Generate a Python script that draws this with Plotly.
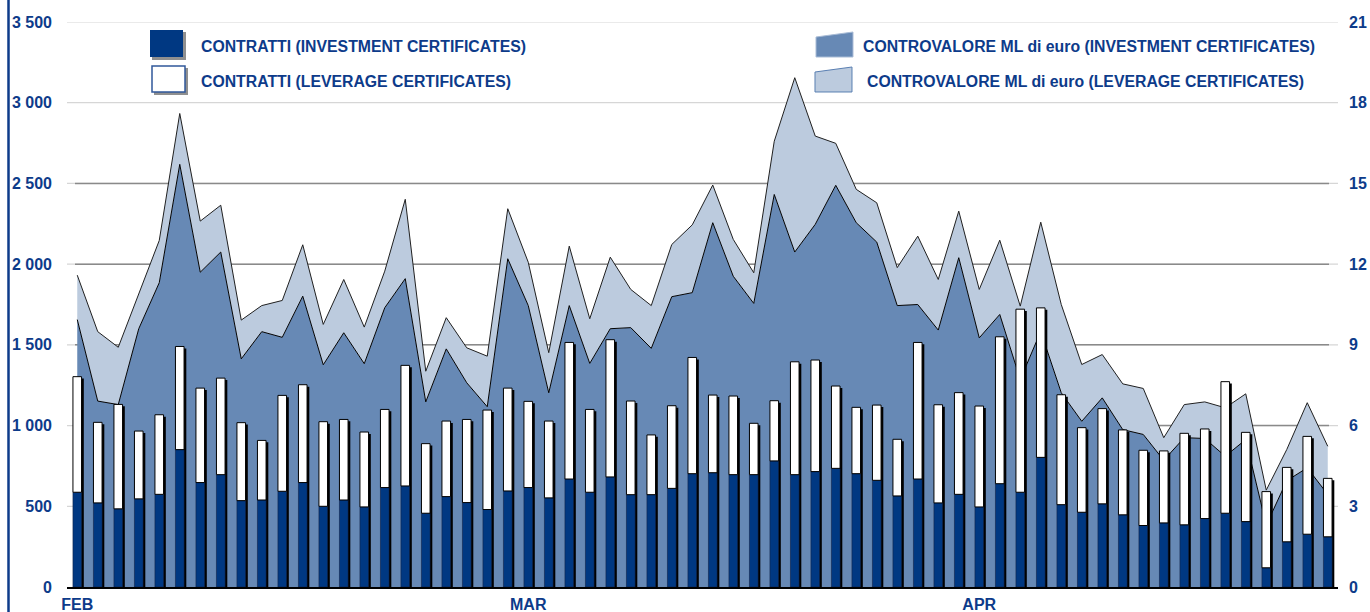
import plotly.graph_objects as go

# ---- data ------------------------------------------------------------------
days = list(range(62))
month_ticks = [0, 22, 44]
month_labels = ["FEB", "MAR", "APR"]

contratti_inv = [587, 521, 484, 546, 574, 851, 647, 696, 535, 539,
                 593, 647, 500, 539, 496, 616, 626, 457, 560, 523,
                 480, 595, 616, 552, 669, 587, 682, 572, 572, 611,
                 702, 708, 696, 696, 781, 696, 715, 735, 702, 661,
                 564, 669, 521, 574, 496, 640, 587, 803, 510, 463,
                 515, 447, 381, 397, 385, 424, 457, 405, 119, 280,
                 327, 311]
contratti_lev = [716, 499, 647, 420, 493, 639, 585, 598, 483, 369,
                 594, 606, 524, 499, 464, 484, 747, 431, 468, 515,
                 616, 637, 534, 476, 846, 513, 850, 580, 370, 512,
                 720, 481, 487, 318, 373, 699, 691, 510, 411, 466,
                 351, 846, 608, 630, 625, 910, 1134, 926, 681, 524,
                 590, 526, 466, 446, 567, 555, 815, 553, 472, 461,
                 606, 362]

ctv_inv = [9.94, 6.91, 6.78, 9.6, 11.31, 15.71, 11.70, 12.45, 8.48, 9.49,
           9.28, 10.81, 8.26, 9.45, 8.30, 10.38, 11.46, 6.88, 8.85, 7.59,
           6.7, 12.2, 10.46, 7.22, 10.46, 8.31, 9.60, 9.64, 8.87, 10.79,
           10.94, 13.54, 11.55, 10.54, 14.59, 12.45, 13.48, 14.93, 13.54, 12.82,
           10.46, 10.50, 9.55, 12.24, 9.26, 10.13, 7.71, 9.5, 7.22, 6.16,
           7.03, 5.85, 5.67, 4.71, 5.55, 5.52, 4.86, 5.48, 2.3, 3.95,
           4.43, 3.44]
ctv_lev = [1.65, 2.58, 2.13, 1.3, 1.57, 1.89, 1.9, 1.74, 1.44, 0.97,
           1.37, 1.91, 1.50, 1.98, 1.36, 1.36, 2.95, 1.14, 1.16, 1.30,
           1.88, 1.86, 1.61, 1.49, 2.21, 1.66, 2.66, 1.42, 1.59, 1.94,
           2.52, 1.40, 1.37, 1.14, 1.98, 6.48, 3.28, 1.56, 1.24, 1.46,
           1.41, 2.54, 1.88, 1.73, 1.80, 2.76, 2.73, 4.06, 3.28, 2.11,
           1.61, 1.70, 1.71, 0.84, 1.23, 1.36, 1.80, 1.70, 1.3, 1.16,
           2.42, 1.79]

left_ticks = [0, 500, 1000, 1500, 2000, 2500, 3000, 3500]
left_labels = ["0", "500", "1 000", "1 500", "2 000", "2 500", "3 000", "3 500"]
right_ticks = [0, 3, 6, 9, 12, 15, 18, 21]

legend_names = ["CONTRATTI (INVESTMENT CERTIFICATES)",
                "CONTRATTI (LEVERAGE CERTIFICATES)",
                "CONTROVALORE ML di euro (INVESTMENT CERTIFICATES)",
                "CONTROVALORE ML di euro (LEVERAGE CERTIFICATES)"]

# ---- style ------------------------------------------------------------------
NAVY = "#003882"
STEEL = "#6789b5"
PALE = "#bccbde"
TXT = "#0d3b8a"
FONT = "Liberation Sans, Arial, sans-serif"

W, H = 1370, 612
L, R, T, B = 67, 32, 22, 25


def px(x):
    return (x - L) / (W - L - R)


def py(y):
    return (H - B - y) / (H - T - B)


totals = [a + b for a, b in zip(contratti_inv, contratti_lev)]
bw = 0.42

fig = go.Figure()

# areas on the base subplot (drawn beneath the bars)
fig.add_trace(go.Scatter(
    x=days, y=ctv_inv, name=legend_names[2], stackgroup="ctv",
    mode="lines", line=dict(color="black", width=1), fillcolor=STEEL,
    xaxis="x", yaxis="y"))
fig.add_trace(go.Scatter(
    x=days, y=ctv_lev, name=legend_names[3], stackgroup="ctv",
    mode="lines", line=dict(color="#202020", width=1), fillcolor=PALE,
    xaxis="x", yaxis="y"))

# bars on the overlaying subplot
fig.add_trace(go.Bar(
    x=days, y=[t - 12 for t in totals], width=bw, offset=-bw / 2 + 0.11,
    marker=dict(color="black", line=dict(width=0)),
    xaxis="x", yaxis="y2", showlegend=False, hoverinfo="skip"))
fig.add_trace(go.Bar(
    x=days, y=contratti_inv, name=legend_names[0], width=bw, offset=-bw / 2,
    marker=dict(color=NAVY, line=dict(color="#10234a", width=0.6)),
    xaxis="x", yaxis="y2"))
fig.add_trace(go.Bar(
    x=days, y=contratti_lev, base=contratti_inv, name=legend_names[1],
    width=bw, offset=-bw / 2,
    marker=dict(color="white", line=dict(color="black", width=1)),
    xaxis="x", yaxis="y2"))

# gridlines
shapes = []
for v in left_ticks[1:]:
    shapes.append(dict(type="line", xref="paper", yref="y2", x0=0, x1=1,
                       y0=v, y1=v, layer="below",
                       line=dict(color="#d6d6d6", width=1.2)))
for v in left_ticks[1:6]:
    shapes.append(dict(type="line", xref="paper", yref="y2",
                       x0=px(75), x1=px(1329), y0=v, y1=v, layer="below",
                       line=dict(color="#8a8a8a", width=1.5)))

# blue rule on the far left
shapes.append(dict(type="line", xref="paper", yref="paper",
                   x0=px(8.5), x1=px(8.5), y0=py(0), y1=py(H),
                   line=dict(color=TXT, width=2.5)))

# legend swatches
def rect(x0, y0, x1, y1, fill, line_color=None, lw=0):
    return dict(type="rect", xref="paper", yref="paper",
                x0=px(x0), x1=px(x1), y0=py(y1), y1=py(y0),
                fillcolor=fill, line=dict(color=line_color or fill, width=lw))


def quad(pts, fill, line_color, lw=1):
    path = "M " + " L ".join(f"{px(a):.5f},{py(b):.5f}" for a, b in pts) + " Z"
    return dict(type="path", xref="paper", yref="paper", path=path,
                fillcolor=fill, line=dict(color=line_color, width=lw))


shapes += [
    rect(152, 32, 186, 60, "#8f8f8f"),
    rect(150, 30, 183, 57, NAVY),
    rect(154, 68, 188, 95, "#8f8f8f"),
    rect(152, 66, 185, 92, "white", "#30589a", 1.5),
    quad([(816, 37), (853, 32), (853, 57), (816, 57)], STEEL, "#a9bcd6", 1),
    quad([(815, 72), (852, 67), (852, 92), (815, 92)], PALE, "#5a7fb2", 1),
]

annotations = []
for name, (x, y) in zip(legend_names, [(199, 47), (199, 81), (861, 47), (865, 81)]):
    annotations.append(dict(text=name, xref="paper", yref="paper",
                            x=px(x), y=py(y), xanchor="left", yanchor="middle",
                            showarrow=False,
                            font=dict(family=FONT, size=15.8, color=TXT, weight="bold")))

tickfont = dict(family=FONT, size=16, color=TXT, weight="bold")

fig.update_layout(
    width=W, height=H,
    margin=dict(l=L, r=R, t=T, b=B),
    paper_bgcolor="white", plot_bgcolor="white",
    barmode="overlay", showlegend=False,
    xaxis=dict(range=[-0.5, 61.5], tickvals=month_ticks, ticktext=month_labels,
               showgrid=False, zeroline=False, ticks="", automargin=False,
               showline=True, linecolor="black", linewidth=2,
               tickfont=tickfont, ticklabelstandoff=2),
    yaxis=dict(range=[0, 21], side="right", tickvals=right_ticks,
               showgrid=False, zeroline=False, ticks="", automargin=False,
               tickfont=tickfont, ticklabelstandoff=10),
    yaxis2=dict(range=[0, 3500], side="left", overlaying="y",
                tickvals=left_ticks, ticktext=left_labels, automargin=False,
                showgrid=False, zeroline=False, ticks="",
                tickfont=tickfont, ticklabelstandoff=14),
    shapes=shapes,
    annotations=annotations,
)

# page body has a default 8px margin; drop it so the figure sits at 0,0
fig.write_html("out.html", config={"displayModeBar": False},
               post_script="document.body.style.margin='0';")
